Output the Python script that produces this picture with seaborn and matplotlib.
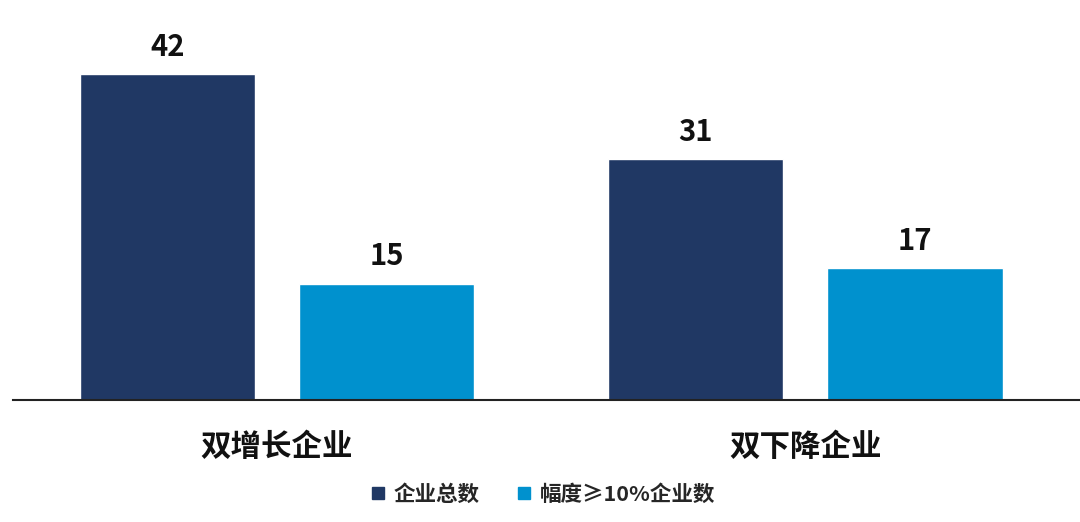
import matplotlib
matplotlib.use('Agg')
import matplotlib.pyplot as plt
import seaborn as sns
import pandas as pd
from matplotlib.lines import Line2D

# data
categories = ['双增长企业', '双下降企业']
series = ['企业总数', '幅度≥10%企业数']
total_counts = [42, 31]
big_change_counts = [15, 17]
colors = ['#203864', '#0091CE']

df = pd.DataFrame({
    'category': categories * 2,
    'series': [series[0]] * 2 + [series[1]] * 2,
    'value': total_counts + big_change_counts,
})

sns.set_theme(style='white')
plt.rcParams['font.family'] = ['Noto Sans CJK SC', 'DejaVu Sans']

fig = plt.figure(figsize=(10.8, 5.22), dpi=100)
ax = fig.add_axes([13 / 1080, 122 / 522, 1 - 13 / 1080, 380 / 522])

sns.barplot(data=df, x='category', y='value', hue='series', order=categories,
            hue_order=series, palette=colors, width=0.83, gap=0.2,
            saturation=1, ax=ax, legend=False)

for container in ax.containers:
    ax.bar_label(container, fmt='%d', padding=9, fontsize=21, fontweight='bold',
                 color='#111111')

ax.set_xlim(-0.5, 1.52)
ax.set_ylim(0, 380 / 7.76)
ax.set_xlabel('')
ax.set_ylabel('')
ax.set_yticks([])
ax.tick_params(axis='x', length=0, pad=22, labelsize=22)
for lbl in ax.get_xticklabels():
    lbl.set_fontweight('bold')
    lbl.set_color('#111111')

for side in ['top', 'right', 'left']:
    ax.spines[side].set_visible(False)
ax.spines['bottom'].set_color('#222222')
ax.spines['bottom'].set_linewidth(1.5)

handles = [Line2D([], [], marker='s', linestyle='', markersize=8.5,
                  markerfacecolor=c, markeredgecolor=c) for c in colors]
fig.legend(handles, series, loc='center', bbox_to_anchor=(0.5, 1 - 494 / 522),
           ncol=2, frameon=False, handletextpad=0.1, handlelength=1.2,
           columnspacing=1.5, prop={'size': 15.5, 'weight': 'bold'})

fig.savefig('out.png', dpi=100)
